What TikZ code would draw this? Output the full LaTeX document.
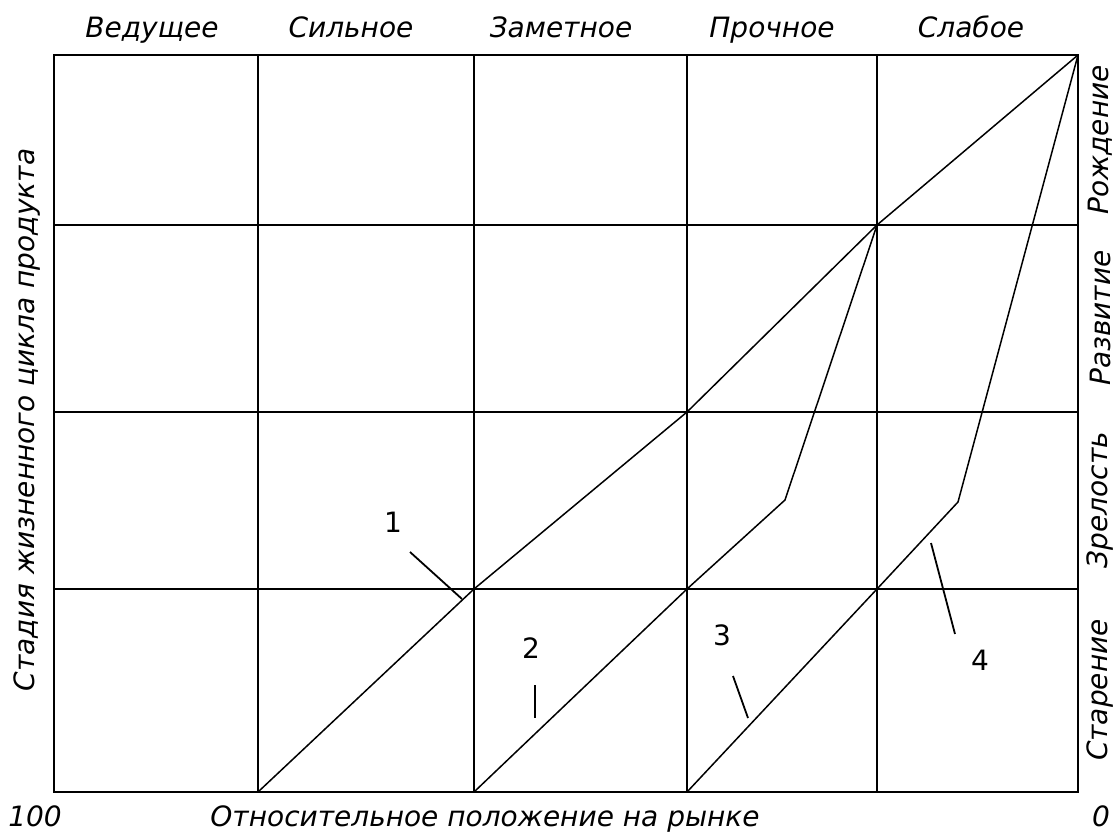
\documentclass[tikz,border=0pt]{standalone}
\usepackage{fontspec}
\setmainfont{DejaVu Sans}
\usetikzlibrary{calc}
\tikzset{
  gridln/.style   = {line width=2pt},
  curve/.style    = {line width=1.5pt,line join=round},
  leader/.style   = {line width=1.8pt},
  collbl/.style   = {font=\fontsize{28}{34}\selectfont\itshape,anchor=base,inner sep=0pt},
  stagelbl/.style = {font=\fontsize{28}{34}\selectfont\itshape,rotate=90,inner sep=0pt},
  numlbl/.style   = {font=\fontsize{28}{34}\selectfont,inner sep=0pt},
}

\begin{document}
\begin{tikzpicture}[x=1pt,y=-1pt]
  \useasboundingbox (0,0) rectangle (1120,835);
  % grid points
  \foreach \i/\x in {0/54,1/258,2/474,3/687,4/877,5/1078}
    \foreach \j/\y in {0/55,1/225,2/412,3/589,4/792}
      \coordinate (p\i\j) at (\x,\y);
  \draw[gridln] (p00) rectangle (p54);
  \foreach \i in {1,...,4} \draw[gridln] (p\i0) -- (p\i4);
  \foreach \j in {1,2,3} \draw[gridln] (p0\j) -- (p5\j);

  % column heads
  \node[collbl] (hlead)   at (152,37) {Ведущее};
  \node[collbl] (hstrong) at (351,37) {Сильное};
  \node[collbl] (hnote)   at (561,37) {Заметное};
  \node[collbl] (hfirm)   at (772,37) {Прочное};
  \node[collbl] (hweak)   at (971,37) {Слабое};

  % stages
  \node[stagelbl] (sbirth) at (1100,140) {Рождение};
  \node[stagelbl] (sgrow)  at (1100,318) {Развитие};
  \node[stagelbl] (smat)   at (1100,500) {Зрелость};
  \node[stagelbl] (sold)   at (1100,690) {Старение};
  \node[stagelbl] (yaxis)  at (27,420) {Стадия жизненного цикла продукта};

  % bottom axis
  \node[collbl] (xmax)  at (35,826)   {100};
  \node[collbl] (xaxis) at (485,826)  {Относительное положение на рынке};
  \node[collbl] (xmin)  at (1101,826) {0};

  % strategy curves
  \coordinate (k2) at (785,500);
  \coordinate (k3) at (958,502);
  \draw[curve] (p14) -- (p23) -- (p32) -- (p41) -- (p50);
  \draw[curve] (p24) -- (p33) -- (k2) -- (p41);
  \draw[curve] (p34) -- (p43) -- (k3) -- (p50);

  % curve numbers
  \node[numlbl] (n1) at (393,522) {1};
  \node[numlbl] (n2) at (531,648) {2};
  \node[numlbl] (n3) at (722,635) {3};
  \node[numlbl] (n4) at (980,660) {4};
  \coordinate (l1a) at (410,552); \coordinate (l1b) at (462,599);
  \coordinate (l2a) at (535,685); \coordinate (l2b) at (535,718);
  \coordinate (l3a) at (733,676); \coordinate (l3b) at (748,718);
  \coordinate (l4a) at (931,543); \coordinate (l4b) at (955,634);
  \draw[leader] (l1a) -- (l1b);
  \draw[leader] (l2a) -- (l2b);
  \draw[leader] (l3a) -- (l3b);
  \draw[leader] (l4a) -- (l4b);
\end{tikzpicture}
\end{document}
